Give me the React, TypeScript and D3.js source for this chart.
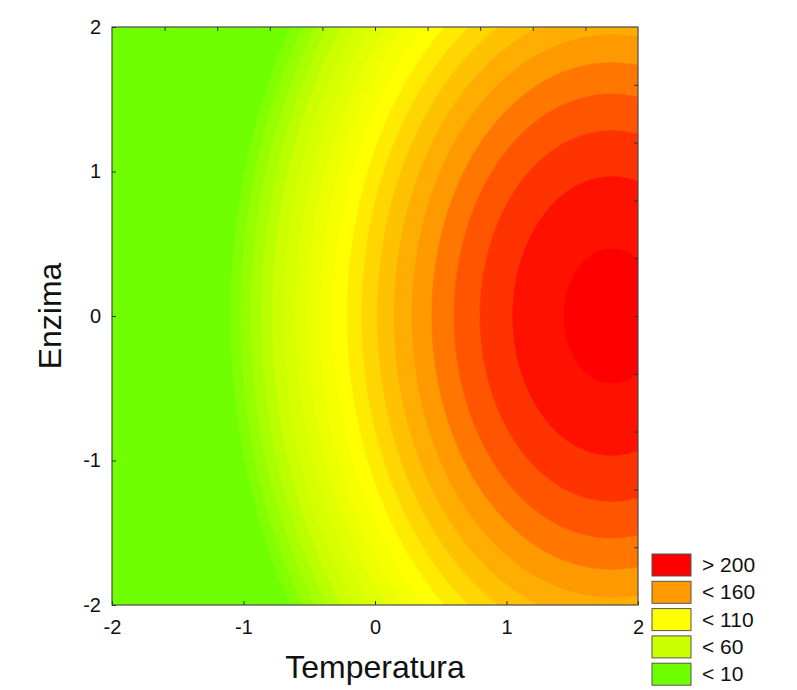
import React, { useEffect, useRef } from "react";
import * as d3 from "d3";

const WIDTH = 797;
const HEIGHT = 690;
const plot = { left: 112, top: 27, right: 638, bottom: 605 };

// fitted response surface: z = b0 + b1*T + b2*T^2 + b3*E + b4*E^2 + b5*T*E
const termNames = ["const", "T", "T^2", "E", "E^2", "T*E"];
const coefficients = [128.5, 82.8, -23.0, 0, -14, 0];

// contour levels (z)
const levels = [10, 20, 30, 40, 50, 60, 70, 80, 90, 100, 110, 120, 130, 140, 150, 160, 170, 180, 190, 200];

// legend
const legendLabels = ["> 200", "< 160", "< 110", "< 60", "< 10"];
const legendValues = [205, 160, 110, 60, 10];
const stopValues = [10, 60, 110, 160, 205];
const stopColors = ["#70ff00", "#ccff00", "#ffff00", "#ff9900", "#ff0000"];

const xTicks = [-2, -1, 0, 1, 2];
const yTicks = [-2, -1, 0, 1, 2];
const minorTicks = [-1.6, -1.2, -0.8, -0.4, 0, 0.4, 0.8, 1.2, 1.6];

const FONT = "'Liberation Sans', Arial, sans-serif";

const surface = (t: number, e: number) => {
  const c = coefficients;
  return c[0] + c[1] * t + c[2] * t * t + c[3] * e + c[4] * e * e + c[5] * t * e;
};

const ContourChart = () => {
  const ref = useRef<SVGSVGElement>(null);

  useEffect(() => {
    drawChart();
  }, []);

  const drawChart = () => {
    const svg = d3.select(ref.current);
    svg.selectAll("*").remove();

    const x = d3.scaleLinear().domain([-2, 2]).range([plot.left, plot.right]);
    const y = d3.scaleLinear().domain([-2, 2]).range([plot.bottom, plot.top]);
    const color = d3
      .scaleLinear<string>()
      .domain(stopValues)
      .range(stopColors)
      .interpolate(d3.interpolateRgb)
      .clamp(true);
    // band above level i takes the colour of its upper bound
    const bandColor = (i: number) => color(i + 1 < levels.length ? levels[i + 1] : 205);

    // sample grid
    const n = 240;
    const values: number[] = new Array(n * n);
    for (let j = 0; j < n; j++) {
      for (let i = 0; i < n; i++) {
        values[j * n + i] = surface(-2 + ((i + 0.5) * 4) / n, 2 - ((j + 0.5) * 4) / n);
      }
    }
    const contours = d3.contours().size([n, n]).thresholds(levels)(values);

    const proj = d3.geoTransform({
      point(px: number, py: number) {
        this.stream.point(x(-2 + (px * 4) / n), y(2 - (py * 4) / n));
      },
    });
    const path = d3.geoPath(proj);

    svg
      .append("clipPath")
      .attr("id", "plot-clip")
      .append("rect")
      .attr("x", plot.left)
      .attr("y", plot.top)
      .attr("width", plot.right - plot.left)
      .attr("height", plot.bottom - plot.top);

    const area = svg.append("g").attr("clip-path", "url(#plot-clip)");
    area
      .append("rect")
      .attr("x", plot.left)
      .attr("y", plot.top)
      .attr("width", plot.right - plot.left)
      .attr("height", plot.bottom - plot.top)
      .attr("fill", color(10));

    area
      .selectAll("path")
      .data(contours)
      .join("path")
      .attr("d", (d) => path(d as any))
      .attr("fill", (d, i) => bandColor(i))
      .attr("stroke", (d, i) => bandColor(i))
      .attr("stroke-width", 0.6);

    // frame
    svg
      .append("rect")
      .attr("x", plot.left)
      .attr("y", plot.top)
      .attr("width", plot.right - plot.left)
      .attr("height", plot.bottom - plot.top)
      .attr("fill", "none")
      .attr("stroke", "#4a4a4a")
      .attr("stroke-width", 1.2);

    const styleAxis = (g: any) => {
      g.select(".domain").remove();
      g.selectAll("line").attr("stroke", "#333");
      g.attr("font-size", 20).attr("font-family", FONT);
      g.selectAll("text").attr("fill", "#111");
    };
    const fmt = (d: any) => String(d);

    // bottom axis
    svg
      .append("g")
      .attr("transform", `translate(0, ${plot.bottom})`)
      .call(d3.axisBottom(x).tickValues(xTicks).tickSizeInner(-4).tickSizeOuter(0).tickPadding(15).tickFormat(fmt))
      .call(styleAxis);

    // left axis
    svg
      .append("g")
      .attr("transform", `translate(${plot.left}, 0)`)
      .call(d3.axisLeft(y).tickValues(yTicks).tickSizeInner(-4).tickSizeOuter(0).tickPadding(11).tickFormat(fmt))
      .call(styleAxis);

    // top and right minor ticks
    svg
      .append("g")
      .attr("transform", `translate(0, ${plot.top})`)
      .call(d3.axisTop(x).tickValues(minorTicks).tickSizeInner(-4).tickSizeOuter(0).tickFormat(() => ""))
      .call(styleAxis);
    svg
      .append("g")
      .attr("transform", `translate(${plot.right}, 0)`)
      .call(d3.axisRight(y).tickValues(minorTicks).tickSizeInner(-4).tickSizeOuter(0).tickFormat(() => ""))
      .call(styleAxis);

    // axis titles
    svg
      .append("text")
      .attr("x", (plot.left + plot.right) / 2)
      .attr("y", 678)
      .attr("text-anchor", "middle")
      .attr("font-family", FONT)
      .attr("font-size", 32)
      .attr("fill", "#111")
      .text("Temperatura");

    svg
      .append("text")
      .attr("transform", `translate(61, ${(plot.top + plot.bottom) / 2}) rotate(-90)`)
      .attr("text-anchor", "middle")
      .attr("font-family", FONT)
      .attr("font-size", 32)
      .attr("fill", "#111")
      .text("Enzima");

    // legend
    const legend = svg.append("g").attr("transform", "translate(652, 554)");
    const items = legend
      .selectAll("g")
      .data(legendLabels)
      .join("g")
      .attr("transform", (d, i) => `translate(0, ${i * 27.3})`);
    items
      .append("rect")
      .attr("width", 39)
      .attr("height", 22)
      .attr("fill", (d, i) => color(legendValues[i]))
      .attr("stroke", "#555")
      .attr("stroke-width", 1);
    items
      .append("text")
      .attr("x", 50)
      .attr("y", 18)
      .attr("font-family", FONT)
      .attr("font-size", 21)
      .attr("fill", "#111")
      .text((d) => d);
  };

  return (
    <svg
      ref={ref}
      width={WIDTH}
      height={HEIGHT}
      style={{ position: "absolute", left: 0, top: 0, background: "#fff" }}
    />
  );
};

export default function App() {
  return <ContourChart />;
}
